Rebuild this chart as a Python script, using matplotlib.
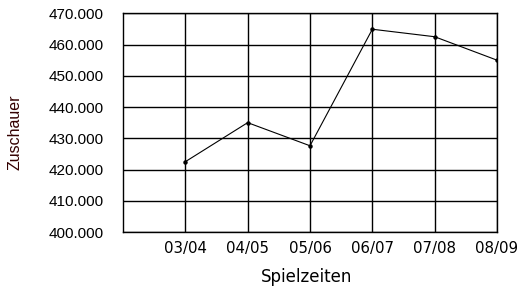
import matplotlib
matplotlib.use("Agg")
import matplotlib.pyplot as plt
from matplotlib.ticker import FuncFormatter

seasons = ["03/04", "04/05", "05/06", "06/07", "07/08", "08/09"]
spectators = [422500, 435000, 427600, 464900, 462500, 455000]
yticks = [400000, 410000, 420000, 430000, 440000, 450000, 460000, 470000]

fig = plt.figure(figsize=(5.25, 2.91), dpi=100)
ax = fig.add_axes([123/525, 1-232/291, (497-123)/525, (232-13.3)/291])

xpos = list(range(1, len(seasons) + 1))
ax.plot(xpos, spectators, color="black", linewidth=0.8, marker="o", markersize=2.2,
        markerfacecolor="black", markeredgecolor="black", zorder=3)

ax.set_xlim(0, len(seasons))
ax.set_ylim(yticks[0], yticks[-1])
ax.set_xticks(xpos)
ax.set_xticklabels([s.replace("/", "\u2009/\u2009") if False else s for s in seasons],
                   family="DejaVu Sans", fontsize=10.8)
ax.set_yticks(yticks)
ax.yaxis.set_major_formatter(FuncFormatter(lambda v, p: f"{int(v):,}".replace(",", ".")))
for lab in ax.get_yticklabels():
    lab.set_family("Liberation Sans")
    lab.set_fontsize(11)
ax.tick_params(axis="y", length=0, pad=13.7)
ax.tick_params(axis="x", length=0, pad=6.5)
ax.grid(True, color="black", linewidth=1.0)
ax.set_axisbelow(True)
for sp in ax.spines.values():
    sp.set_color("black")
    sp.set_linewidth(1.0)

fig.text(307/525, 1-277/291, "Spielzeiten", ha="center", va="center",
         family="DejaVu Sans", fontsize=12, color="black")
fig.text(15/525, 1-132/291, "Zuschauer", ha="center", va="center", rotation=90,
         family="Liberation Sans", fontsize=11.5, color="#330000")

fig.savefig("out.png", dpi=100)
